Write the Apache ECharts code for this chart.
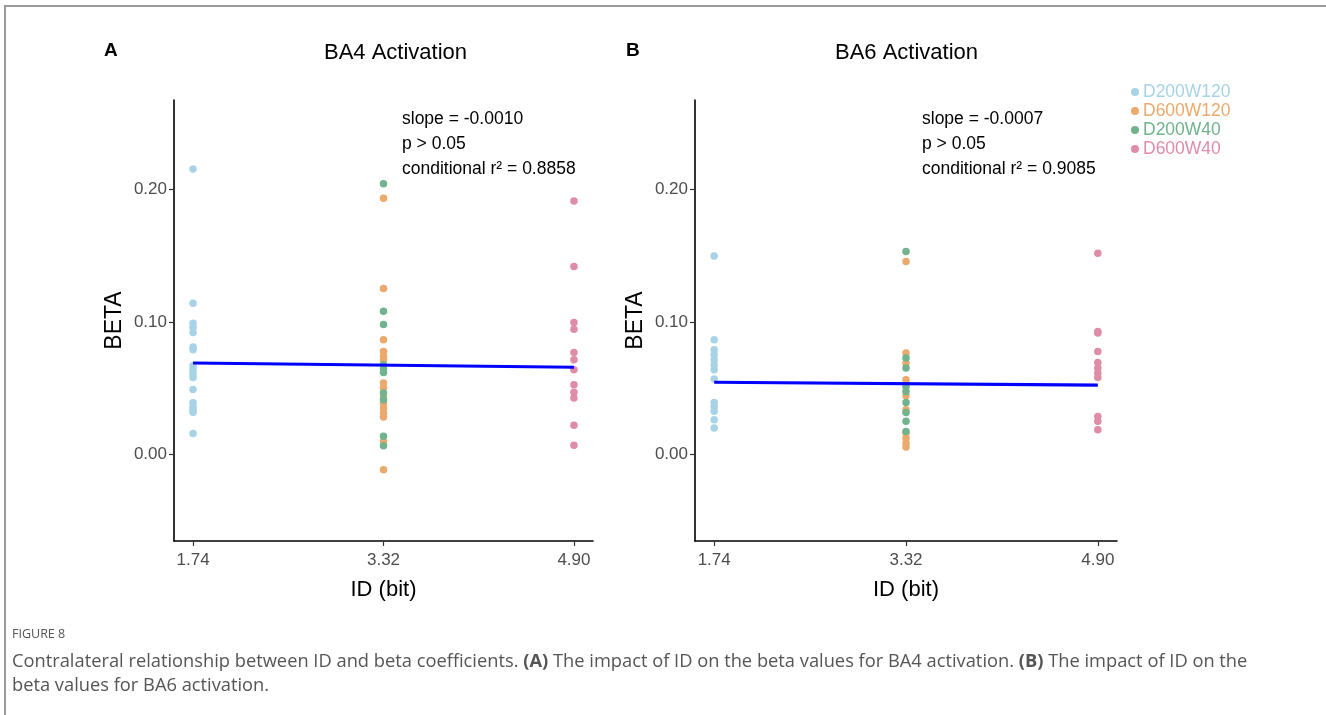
<!DOCTYPE html>
<html>
<head>
<meta charset="utf-8">
<script src="https://cdn.jsdelivr.net/npm/echarts@6/dist/echarts.min.js"></script>
<style>
html,body{margin:0;padding:0;background:#fff;}
#frame{position:absolute;left:4px;top:5px;width:1322px;height:710px;border-top:2px solid #9a9a9a;border-left:2px solid #9a9a9a;box-sizing:border-box;}
#chart{position:absolute;left:0;top:0;width:1326px;height:715px;}
</style>
</head>
<body>
<div id="frame"></div>
<div id="chart"></div>
<script>
// ---- data ----
const idTicks = [1.74, 3.32, 4.90];
const yTicks = [0.00, 0.10, 0.20];
const groupNames = ['D200W120', 'D600W120', 'D200W40', 'D600W40'];
const groupColors = ['#a8d3e6', '#eba96b', '#70b38e', '#df8ca6'];
const groupX = [1.74, 3.32, 3.32, 4.90];

// Panel A (BA4)
const ba4_D200W120 = [0.215, 0.114, 0.099, 0.096, 0.092, 0.081, 0.079, 0.067, 0.064, 0.061, 0.058, 0.049, 0.039, 0.036, 0.034, 0.032, 0.016];
const ba4_D600W120 = [0.193, 0.125, 0.0865, 0.0777, 0.0739, 0.0714, 0.0539, 0.0501, 0.0439, 0.0389, 0.0351, 0.0313, 0.0283, 0.0100, -0.0113];
const ba4_D200W40 = [0.204, 0.108, 0.098, 0.0677, 0.0647, 0.0619, 0.0464, 0.0414, 0.0138, 0.0068];
const ba4_D600W40 = [0.191, 0.1416, 0.0995, 0.0945, 0.0769, 0.0714, 0.0639, 0.0526, 0.0469, 0.0426, 0.0221, 0.0070];
const ba4_fit = [0.0690, 0.0658]; // at ID 1.74 and 4.90

// Panel B (BA6)
const ba6_D200W120 = [0.1496, 0.0865, 0.0789, 0.0752, 0.0714, 0.0677, 0.0639, 0.0569, 0.0393, 0.0363, 0.0326, 0.0263, 0.0201];
const ba6_D600W120 = [0.1454, 0.0765, 0.0689, 0.0564, 0.0444, 0.0338, 0.0163, 0.0125, 0.0088, 0.0058];
const ba6_D200W40 = [0.1529, 0.0727, 0.0652, 0.0514, 0.0476, 0.0393, 0.0318, 0.0251, 0.0175];
const ba6_D600W40 = [0.1516, 0.0927, 0.0915, 0.0777, 0.0694, 0.0652, 0.0614, 0.0581, 0.0288, 0.0251, 0.0188];
const ba6_fit = [0.0545, 0.0523];

const annA = ['slope = -0.0010', 'p > 0.05', 'conditional r² = 0.8858'];
const annB = ['slope = -0.0007', 'p > 0.05', 'conditional r² = 0.9085'];

// ---- chart ----
const chart = echarts.init(document.getElementById('chart'));
const FONT = 'Liberation Sans, Arial, sans-serif';

function xAxisOf(gi) {
  return {
    type: 'value', gridIndex: gi, min: 1.582, max: 5.058,
    name: 'ID (bit)', nameLocation: 'middle', nameGap: 38,
    nameTextStyle: { fontFamily: FONT, fontSize: 22, color: '#000' },
    axisLine: { show: true, onZero: false, lineStyle: { color: '#000', width: 1.6 } },
    axisTick: { show: true, length: 5, lineStyle: { color: '#333', width: 1.2 }, customValues: idTicks },
    axisLabel: { fontFamily: FONT, fontSize: 17, color: '#4d4d4d', margin: 11, customValues: idTicks,
      formatter: v => v.toFixed(2) },
    splitLine: { show: false }
  };
}
function yAxisOf(gi) {
  return {
    type: 'value', gridIndex: gi, min: -0.065, max: 0.267,
    name: 'BETA', nameLocation: 'middle', nameGap: 48,
    nameTextStyle: { fontFamily: FONT, fontSize: 23, color: '#000' },
    axisLine: { show: true, onZero: false, lineStyle: { color: '#000', width: 1.6 } },
    axisTick: { show: true, length: 5, lineStyle: { color: '#333', width: 1.2 }, customValues: yTicks },
    axisLabel: { fontFamily: FONT, fontSize: 17, color: '#4d4d4d', margin: 7, customValues: yTicks,
      formatter: v => v.toFixed(2) },
    splitLine: { show: false }
  };
}

function scatter(i, values, gi) {
  return {
    type: 'scatter', name: groupNames[i], xAxisIndex: gi, yAxisIndex: gi,
    symbolSize: 7.5, itemStyle: { color: groupColors[i], opacity: 1 },
    data: values.map(v => [groupX[i], v]),
    z: 2, silent: true
  };
}
function fitLine(values, gi) {
  return {
    type: 'line', name: 'fit', xAxisIndex: gi, yAxisIndex: gi,
    data: [[idTicks[0], values[0]], [idTicks[2], values[1]]],
    symbol: 'none', lineStyle: { color: '#0000ff', width: 3.2 }, z: 5, silent: true
  };
}

const panelA = [ba4_D200W120, ba4_D600W120, ba4_D200W40, ba4_D600W40];
const panelB = [ba6_D200W120, ba6_D600W120, ba6_D200W40, ba6_D600W40];
const series = [];
panelA.forEach((vals, i) => series.push(scatter(i, vals, 0)));
series.push(fitLine(ba4_fit, 0));
panelB.forEach((vals, i) => series.push(scatter(i, vals, 1)));
series.push(fitLine(ba6_fit, 1));

function annText(lines, x) {
  return lines.map((t, i) => ({
    type: 'text', left: x, top: 110 + i * 25,
    style: { text: t, font: '17.5px ' + FONT, fill: '#000' }
  }));
}

const option = {
  animation: false,
  backgroundColor: 'transparent',
  grid: [
    { left: 174, top: 100, width: 419, height: 441 },
    { left: 695, top: 100, width: 422, height: 441 }
  ],
  xAxis: [xAxisOf(0), xAxisOf(1)],
  yAxis: [yAxisOf(0), yAxisOf(1)],
  legend: {
    orient: 'vertical', left: 1126, top: 78, itemGap: 1,
    icon: 'circle', itemWidth: 8, itemHeight: 8,
    selectedMode: false,
    data: groupNames.map((n, i) => ({ name: n, textStyle: { color: groupColors[i] } })),
    textStyle: { fontFamily: FONT, fontSize: 17.5, padding: [0, 0, 0, -1] }
  },
  series: series,
  graphic: [
    { type: 'text', left: 104, top: 41, style: { text: 'A', font: 'bold 19px ' + FONT, fill: '#000' } },
    { type: 'text', left: 626, top: 41, style: { text: 'B', font: 'bold 19px ' + FONT, fill: '#000' } },
    { type: 'text', left: 324, top: 42, style: { text: 'BA4 Activation', font: '22px ' + FONT, fill: '#000' } },
    { type: 'text', left: 835, top: 42, style: { text: 'BA6 Activation', font: '22px ' + FONT, fill: '#000' } },
    ...annText(annA, 402),
    ...annText(annB, 922),
    { type: 'text', left: 12, top: 628, style: { text: 'FIGURE 8', font: '12.5px Open Sans, sans-serif', fill: '#555' } },
    { type: 'text', left: 12, top: 650, style: {
      text: 'Contralateral relationship between ID and beta coefficients. {b|(A)} The impact of ID on the beta values for BA4 activation. {b|(B)} The impact of ID on the\nbeta values for BA6 activation.',
      font: '18.3px Open Sans, sans-serif', fill: '#555', lineHeight: 24,
      rich: { b: { fontWeight: 'bold', fontFamily: 'Open Sans, sans-serif', fontSize: 18.3, fill: '#555', lineHeight: 24 } }
    } }
  ]
};
chart.setOption(option);
</script>
</body>
</html>
